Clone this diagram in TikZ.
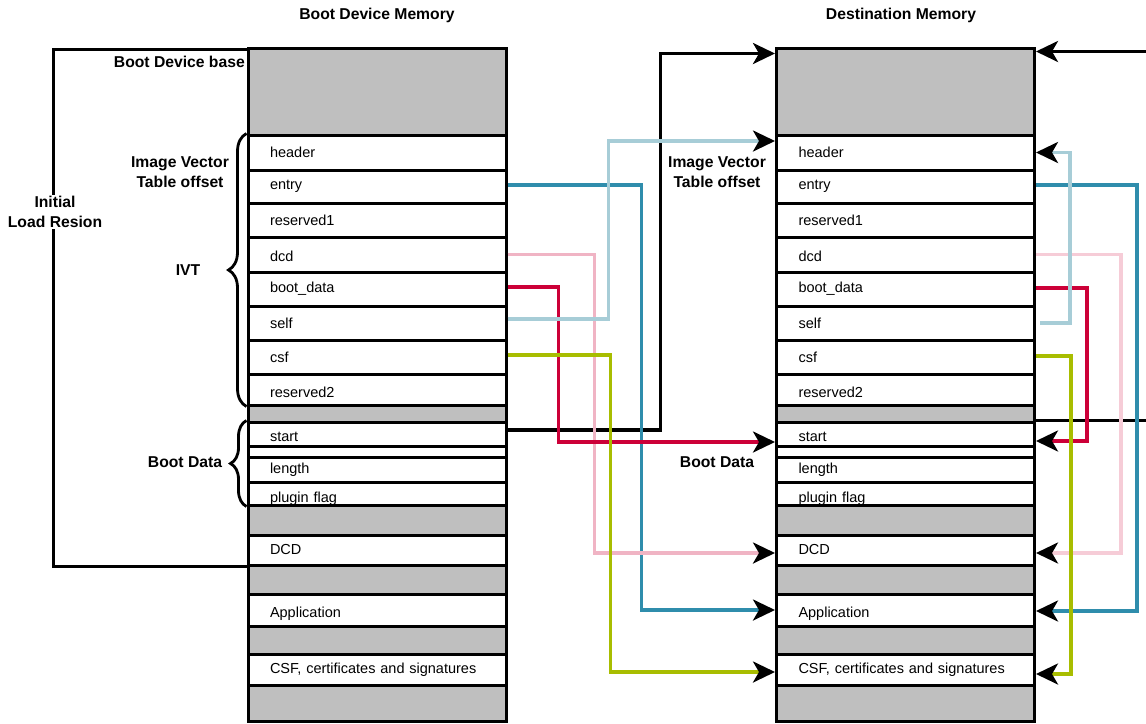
\documentclass[tikz,border=0pt]{standalone}
\usepackage{fontspec}
\setmainfont{Liberation Sans}
\usetikzlibrary{arrows.meta,decorations.pathreplacing,calc}
\definecolor{memgray}{HTML}{BFBFBF}
\definecolor{cteal}{HTML}{2F8DAC}
\definecolor{cpink}{HTML}{F0B4C4}
\definecolor{cpinkl}{HTML}{F6CCD7}
\definecolor{cred}{HTML}{CC0038}
\definecolor{clblue}{HTML}{A7CDD7}
\definecolor{cgreen}{HTML}{A8BD00}
\begin{document}
\begin{tikzpicture}[x=1pt,y=-1pt,
  col/.style={draw, fill=memgray, line width=3pt, minimum width=258pt, minimum height=673pt, inner sep=0pt},
  row/.style={draw, fill=white, line width=3pt, minimum width=258pt, minimum height=#1, inner xsep=22pt, inner ysep=0pt, text width=214pt, align=left, font=\fontsize{14.5}{16}\selectfont},
  lbl/.style={font=\bfseries\fontsize{15.7}{20}\selectfont, align=center, inner sep=1pt},
  conn/.style={line width=3.3pt},
  arr/.style={-{Stealth[length=22pt, width=21pt, inset=6pt, black]}},
  brc/.style={decorate, decoration={brace, amplitude=#1}, line width=2.8pt},
]
\useasboundingbox (0,0) rectangle (1146,723);
\clip (0,0) rectangle (1146,723);

% titles
\node[lbl] (tBoot) at (377,15) {Boot Device Memory};
\node[lbl] (tDest) at (901,15) {Destination Memory};

% columns
\node[col] (colL) at (377,384.5) {};
\node[col] (colR) at (905.5,384.5) {};

% left rows
\node[row=35] (hdrL)  at (377,152.5) {header};
\node[row=33] (entL)  at (377,186.5) {entry};
\node[row=34] (res1L) at (377,220) {reserved1};
\node[row=35, text height=14.5pt] (dcdL)  at (377,254.5) {dcd};
\node[row=34] (bootL) at (377,289) {boot\_data};
\node[row=34] (selfL) at (377,323) {self};
\node[row=34] (csfL)  at (377,357) {csf};
\node[row=31, text height=16.5pt] (res2L) at (377,389.5) {reserved2};
\node[row=24, text height=16pt] (startL) at (377,434) {start};
\node[row=11] (gapL)  at (377,451.5) {};
\node[row=25] (lenL)  at (377,469.5) {length};
\node[row=23, text height=20pt, text depth=3pt] (plugL) at (377,493.5) {plugin flag};
\node[row=30] (dcdbL) at (377,550) {DCD};
\node[row=32, text height=18.5pt] (appL)  at (377,610) {Application};
\node[row=31] (csfbL) at (377,669.5) {CSF, certificates and signatures};

% right rows
\node[row=35] (hdrR)  at (905.5,152.5) {header};
\node[row=33] (entR)  at (905.5,186.5) {entry};
\node[row=34] (res1R) at (905.5,220) {reserved1};
\node[row=35, text height=14.5pt] (dcdR)  at (905.5,254.5) {dcd};
\node[row=34] (bootR) at (905.5,289) {boot\_data};
\node[row=34] (selfR) at (905.5,323) {self};
\node[row=34] (csfR)  at (905.5,357) {csf};
\node[row=31, text height=16.5pt] (res2R) at (905.5,389.5) {reserved2};
\node[row=24, text height=16pt] (startR) at (905.5,434) {start};
\node[row=11] (gapR)  at (905.5,451.5) {};
\node[row=25] (lenR)  at (905.5,469.5) {length};
\node[row=23, text height=20pt, text depth=3pt] (plugR) at (905.5,493.5) {plugin flag};
\node[row=30] (dcdbR) at (905.5,550) {DCD};
\node[row=32, text height=18.5pt] (appR)  at (905.5,610) {Application};
\node[row=31] (csfbR) at (905.5,669.5) {CSF, certificates and signatures};

% initial load region bracket
\draw[line width=2.8pt] ([yshift=-3pt]colL.north west) -- ++(-193,0) |- (dcdbL.south west);
\node[lbl, fill=white] (ilr) at (55,212) {Initial\\Load Resion};
\node[lbl, anchor=east] (base) at (246,62) {Boot Device base};
\node[lbl] (ivtoL) at (180,172) {Image Vector\\Table offset};
\node[lbl] (ivt) at (188,270) {IVT};
\node[lbl] (bdL) at (185,462) {Boot Data};
\node[lbl] (ivtoR) at (717,172) {Image Vector\\Table offset};
\node[lbl] (bdR) at (717,462) {Boot Data};

% braces
\draw[brc=18pt] (hdrL.north west |- res2L.south) -- (hdrL.north west);
\draw[brc=16pt] (plugL.south west) -- (startL.north west);

% left-to-right connectors
\draw[conn, black, arr] ([yshift=4pt]startL.east) -- ++(153,0) |- ([yshift=-7pt]colR.north west);
\draw[conn, cteal, arr] ([yshift=1.5pt]entL.east) -- ++(134,0) |- (appR.west);
\draw[conn, cpink, arr] (dcdL.east) -- ++(87,0) |- ([yshift=-3pt]dcdbR.west);
\draw[conn, cred, arr] ([yshift=2pt]bootL.east) -- ++(51,0) |- ([yshift=-8pt]startR.west);
\draw[conn, clblue, arr] ([yshift=4pt]selfL.east) -- ++(101,0) |- ([yshift=11.5pt]hdrR.west);
\draw[conn, cgreen, arr] ([yshift=2pt]csfL.east) -- ++(103,0) |- ([yshift=-2.5pt]csfbR.west);

% right-side loops
\draw[conn, black, arr] (startR.north east) -- ++(130,0) |- ([yshift=-5pt]colR.north east);
\draw[conn, cteal, arr] ([yshift=1.5pt]entR.east) -- ++(101,0) |- ([yshift=-1pt]appR.east);
\draw[conn, cpinkl, arr] (dcdR.east) -- ++(85,0) |- ([yshift=-3pt]dcdbR.east);
\draw[conn, cred, arr] ([yshift=1pt]bootR.east) -- ++(51,0) |- ([yshift=-7pt]startR.east);
\draw[conn, clblue, arr] ([xshift=4pt]selfR.east) -- ++(30,0) |- (hdrR.east);
\draw[conn, cgreen, arr] ([yshift=1pt]csfR.east) -- ++(35,0) |- ([yshift=-4.5pt]csfbR.east);
\end{tikzpicture}
\end{document}
